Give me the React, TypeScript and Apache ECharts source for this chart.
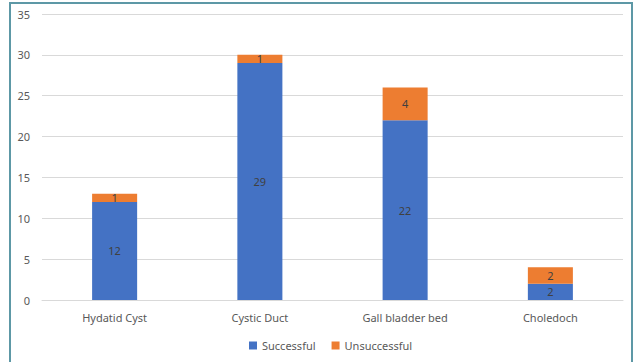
import React, { useEffect, useRef } from "react";
import * as echarts from "echarts";

const categories = ["Hydatid Cyst", "Cystic Duct", "Gall bladder bed", "Choledoch"];
const successful = [12, 29, 22, 2];
const unsuccessful = [1, 1, 4, 2];
const yTicks = { min: 0, max: 35, interval: 5 };

export default function App() {
  const ref = useRef<HTMLDivElement>(null);
  useEffect(() => {
    if (!ref.current) return;
    const chart = echarts.init(ref.current, null, { renderer: "svg" });
    const font = "'Noto Sans', 'Open Sans', sans-serif";
    const label = {
      show: true,
      position: "inside",
      color: "#404040",
      fontSize: 11,
      fontFamily: font,
    };
    chart.setOption({
      animation: false,
      backgroundColor: "#ffffff",
      graphic: [
        {
          type: "rect",
          shape: { x: 10, y: 3, width: 622, height: 380 },
          style: { fill: "none", stroke: "#5d98a6", lineWidth: 2 },
          silent: true,
        },
      ],
      grid: { left: 42, right: 15, top: 14, bottom: 62, containLabel: false },
      legend: {
        data: ["Successful", "Unsuccessful"],
        bottom: 6,
        left: 244,
        itemWidth: 8,
        itemHeight: 8,
        itemGap: 16,
        icon: "rect",
        textStyle: { color: "#595959", fontSize: 11, fontFamily: font },
      },
      xAxis: {
        type: "category",
        data: categories,
        axisLine: { show: true, lineStyle: { color: "#d9d9d9" } },
        axisTick: { show: false },
        axisLabel: { color: "#595959", fontSize: 11, fontFamily: font, margin: 12 },
      },
      yAxis: {
        type: "value",
        min: yTicks.min,
        max: yTicks.max,
        interval: yTicks.interval,
        axisLine: { show: false },
        axisTick: { show: false },
        splitLine: { lineStyle: { color: "#d9d9d9" } },
        axisLabel: { color: "#595959", fontSize: 11, fontFamily: font, margin: 12 },
      },
      series: [
        {
          name: "Successful",
          type: "bar",
          stack: "total",
          data: successful,
          barWidth: "31%",
          itemStyle: { color: "#4472c4" },
          label,
        },
        {
          name: "Unsuccessful",
          type: "bar",
          stack: "total",
          data: unsuccessful,
          barWidth: "31%",
          itemStyle: { color: "#ed7d31" },
          label,
        },
      ],
    });
    return () => chart.dispose();
  }, []);
  return (
    <div
      ref={ref}
      style={{ position: "absolute", left: 0, top: 0, width: 638, height: 362 }}
    />
  );
}
